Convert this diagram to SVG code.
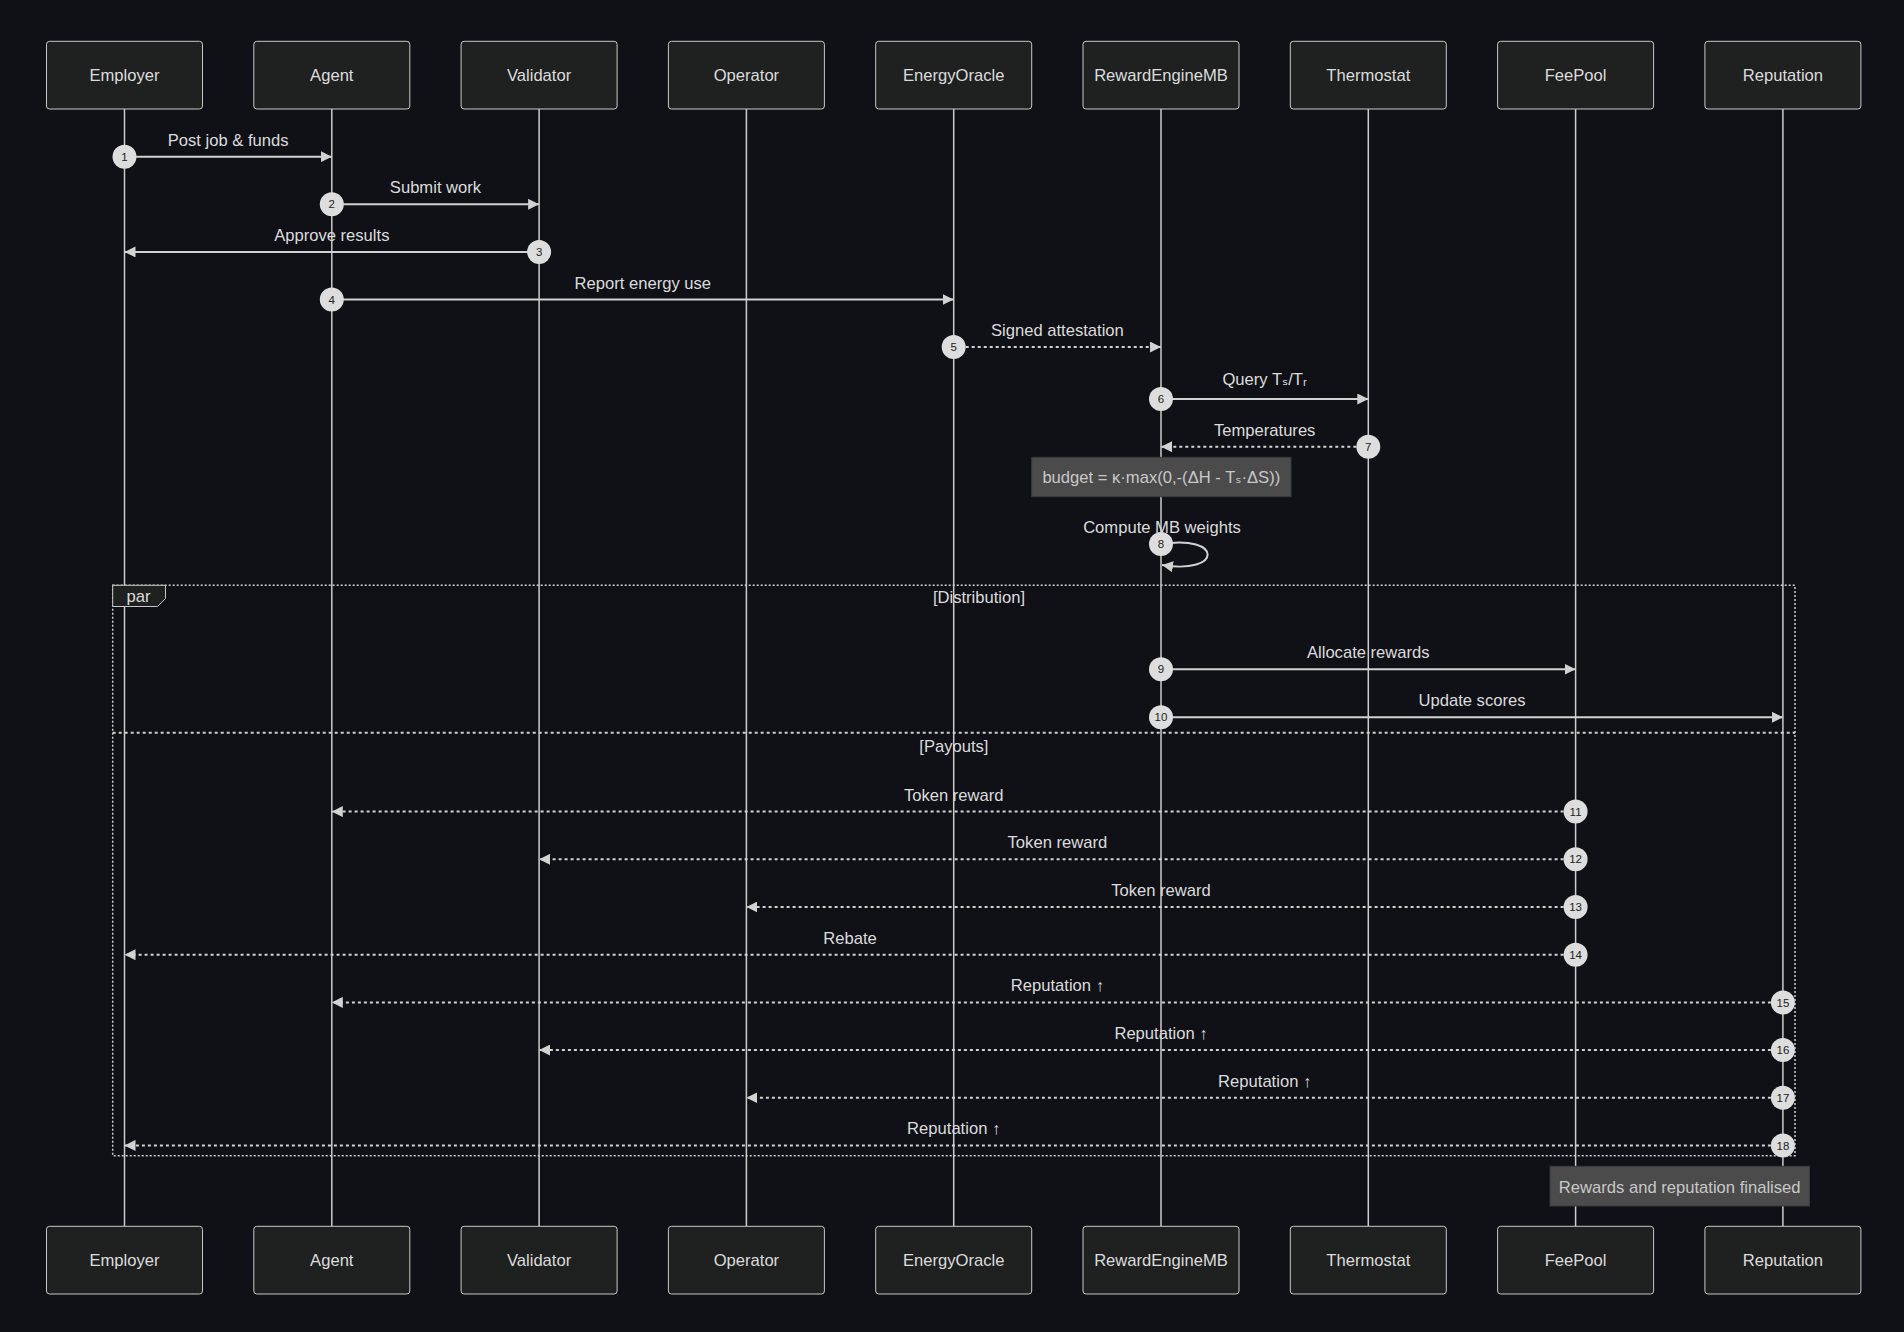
<svg xmlns="http://www.w3.org/2000/svg" width="1904" height="1332" viewBox="0 0 1904 1332">
<style>
.bg{fill:#0f1117}
.abox{fill:#1f2020;stroke:#c8c8c8;stroke-width:1}
.atxt{font-family:"Liberation Sans","DejaVu Sans",sans-serif;font-size:16.6px;fill:#dcdcdc;text-anchor:middle}
.life{stroke:#cccccc;stroke-width:1.5}
.msg{stroke:#d2d2d2;stroke-width:2;fill:none}
.dash{stroke-dasharray:3 3}
.lbl{font-family:"Liberation Sans","DejaVu Sans",sans-serif;font-size:16.6px;fill:#dcdcdc;text-anchor:middle}
.numc{fill:#dddddd}
.numt{font-family:"Liberation Sans","DejaVu Sans",sans-serif;font-size:11.5px;fill:#222222;text-anchor:middle}
.note{fill:#4b4b4b;stroke:#3a3a3a;stroke-width:1}
.ntxt{font-family:"Liberation Sans","DejaVu Sans",sans-serif;font-size:16.6px;fill:#c8c8c8;text-anchor:middle}
.par{fill:none;stroke:#d0d0d0;stroke-width:1.5;stroke-dasharray:2 2}
.sep{fill:none;stroke:#d0d0d0;stroke-width:2;stroke-dasharray:3 3}
.plbl{fill:#1f2020;stroke:#c8c8c8;stroke-width:1}
</style>
<defs>
<marker id="ah" viewBox="0 0 10 10" refX="10" refY="5" markerUnits="userSpaceOnUse" markerWidth="11" markerHeight="11" orient="auto"><path d="M0,0 L10,5 L0,10 z" fill="#d2d2d2"/></marker>
</defs>
<rect class="bg" x="0" y="0" width="1904" height="1332"/>

<g id="actor-Employer">
<line class="life" x1="124.5" y1="109" x2="124.5" y2="1226.3"/>
<rect class="abox" x="46.5" y="41.3" width="156" height="67.7" rx="3"/><text class="atxt" x="124.5" y="81">Employer</text>
<rect class="abox" x="46.5" y="1226.3" width="156" height="67.7" rx="3"/><text class="atxt" x="124.5" y="1266">Employer</text>
</g>
<g id="actor-Agent">
<line class="life" x1="331.8" y1="109" x2="331.8" y2="1226.3"/>
<rect class="abox" x="253.8" y="41.3" width="156" height="67.7" rx="3"/><text class="atxt" x="331.8" y="81">Agent</text>
<rect class="abox" x="253.8" y="1226.3" width="156" height="67.7" rx="3"/><text class="atxt" x="331.8" y="1266">Agent</text>
</g>
<g id="actor-Validator">
<line class="life" x1="539.1" y1="109" x2="539.1" y2="1226.3"/>
<rect class="abox" x="461.1" y="41.3" width="156" height="67.7" rx="3"/><text class="atxt" x="539.1" y="81">Validator</text>
<rect class="abox" x="461.1" y="1226.3" width="156" height="67.7" rx="3"/><text class="atxt" x="539.1" y="1266">Validator</text>
</g>
<g id="actor-Operator">
<line class="life" x1="746.4" y1="109" x2="746.4" y2="1226.3"/>
<rect class="abox" x="668.4" y="41.3" width="156" height="67.7" rx="3"/><text class="atxt" x="746.4" y="81">Operator</text>
<rect class="abox" x="668.4" y="1226.3" width="156" height="67.7" rx="3"/><text class="atxt" x="746.4" y="1266">Operator</text>
</g>
<g id="actor-EnergyOracle">
<line class="life" x1="953.7" y1="109" x2="953.7" y2="1226.3"/>
<rect class="abox" x="875.7" y="41.3" width="156" height="67.7" rx="3"/><text class="atxt" x="953.7" y="81">EnergyOracle</text>
<rect class="abox" x="875.7" y="1226.3" width="156" height="67.7" rx="3"/><text class="atxt" x="953.7" y="1266">EnergyOracle</text>
</g>
<g id="actor-RewardEngineMB">
<line class="life" x1="1161" y1="109" x2="1161" y2="1226.3"/>
<rect class="abox" x="1083" y="41.3" width="156" height="67.7" rx="3"/><text class="atxt" x="1161" y="81">RewardEngineMB</text>
<rect class="abox" x="1083" y="1226.3" width="156" height="67.7" rx="3"/><text class="atxt" x="1161" y="1266">RewardEngineMB</text>
</g>
<g id="actor-Thermostat">
<line class="life" x1="1368.3" y1="109" x2="1368.3" y2="1226.3"/>
<rect class="abox" x="1290.3" y="41.3" width="156" height="67.7" rx="3"/><text class="atxt" x="1368.3" y="81">Thermostat</text>
<rect class="abox" x="1290.3" y="1226.3" width="156" height="67.7" rx="3"/><text class="atxt" x="1368.3" y="1266">Thermostat</text>
</g>
<g id="actor-FeePool">
<line class="life" x1="1575.6" y1="109" x2="1575.6" y2="1226.3"/>
<rect class="abox" x="1497.6" y="41.3" width="156" height="67.7" rx="3"/><text class="atxt" x="1575.6" y="81">FeePool</text>
<rect class="abox" x="1497.6" y="1226.3" width="156" height="67.7" rx="3"/><text class="atxt" x="1575.6" y="1266">FeePool</text>
</g>
<g id="actor-Reputation">
<line class="life" x1="1782.9" y1="109" x2="1782.9" y2="1226.3"/>
<rect class="abox" x="1704.9" y="41.3" width="156" height="67.7" rx="3"/><text class="atxt" x="1782.9" y="81">Reputation</text>
<rect class="abox" x="1704.9" y="1226.3" width="156" height="67.7" rx="3"/><text class="atxt" x="1782.9" y="1266">Reputation</text>
</g>

<g id="par-block">
<rect class="par" x="112.7" y="585.3" width="1682.3" height="570.4"/>
<polygon class="plbl" points="112.7,585.3 165.5,585.3 165.5,598.5 157.5,606.5 112.7,606.5"/>
<text class="lbl" x="138.6" y="602">par</text>
<text class="lbl" x="979" y="603">[Distribution]</text>
<line class="sep" x1="112.7" y1="732.7" x2="1795" y2="732.7"/>
<text class="lbl" x="953.9" y="752">[Payouts]</text>
</g>

<g id="note-budget">
<rect class="note" x="1031.7" y="457.3" width="259.3" height="39.4"/>
<text class="ntxt" x="1161.3" y="483">budget = κ·max(0,-(ΔH - Tₛ·ΔS))</text>
</g>
<g id="note-final">
<rect class="note" x="1550" y="1166.3" width="259.5" height="39.7"/>
<text class="ntxt" x="1679.7" y="1192.5">Rewards and reputation finalised</text>
</g>

<g id="connectors">
<line class="msg" x1="124.5" y1="156.7" x2="331.8" y2="156.7" marker-end="url(#ah)"/>
<text class="lbl" x="228.2" y="145.7">Post job &amp; funds</text>
<line class="msg" x1="331.8" y1="204.3" x2="539.1" y2="204.3" marker-end="url(#ah)"/>
<text class="lbl" x="435.5" y="193.3">Submit work</text>
<line class="msg" x1="539.1" y1="251.9" x2="124.5" y2="251.9" marker-end="url(#ah)"/>
<text class="lbl" x="331.8" y="240.9">Approve results</text>
<line class="msg" x1="331.8" y1="299.5" x2="953.7" y2="299.5" marker-end="url(#ah)"/>
<text class="lbl" x="642.8" y="288.5">Report energy use</text>
<line class="msg dash" x1="953.7" y1="347.1" x2="1161" y2="347.1" marker-end="url(#ah)"/>
<text class="lbl" x="1057.4" y="336">Signed attestation</text>
<line class="msg" x1="1161" y1="399" x2="1368.3" y2="399" marker-end="url(#ah)"/>
<text class="lbl" x="1264.7" y="385">Query Tₛ/Tᵣ</text>
<line class="msg dash" x1="1368.3" y1="446.7" x2="1161" y2="446.7" marker-end="url(#ah)"/>
<text class="lbl" x="1264.7" y="436">Temperatures</text>
<path class="msg" d="M1161,544 C1223,534 1223,575 1162,565" marker-end="url(#ah)"/>
<text class="lbl" x="1162" y="533.3">Compute MB weights</text>
<line class="msg" x1="1161" y1="669.3" x2="1575.6" y2="669.3" marker-end="url(#ah)"/>
<text class="lbl" x="1368.3" y="658.3">Allocate rewards</text>
<line class="msg" x1="1161" y1="717.3" x2="1782.9" y2="717.3" marker-end="url(#ah)"/>
<text class="lbl" x="1472" y="706.3">Update scores</text>
<line class="msg dash" x1="1575.6" y1="811.6" x2="331.8" y2="811.6" marker-end="url(#ah)"/>
<text class="lbl" x="953.7" y="800.6">Token reward</text>
<line class="msg dash" x1="1575.6" y1="859.3" x2="539.1" y2="859.3" marker-end="url(#ah)"/>
<text class="lbl" x="1057.4" y="848.3">Token reward</text>
<line class="msg dash" x1="1575.6" y1="907" x2="746.4" y2="907" marker-end="url(#ah)"/>
<text class="lbl" x="1161" y="896">Token reward</text>
<line class="msg dash" x1="1575.6" y1="954.7" x2="124.5" y2="954.7" marker-end="url(#ah)"/>
<text class="lbl" x="850" y="943.7">Rebate</text>
<line class="msg dash" x1="1782.9" y1="1002.4" x2="331.8" y2="1002.4" marker-end="url(#ah)"/>
<text class="lbl" x="1057.4" y="991.4">Reputation ↑</text>
<line class="msg dash" x1="1782.9" y1="1050" x2="539.1" y2="1050" marker-end="url(#ah)"/>
<text class="lbl" x="1161" y="1039">Reputation ↑</text>
<line class="msg dash" x1="1782.9" y1="1097.7" x2="746.4" y2="1097.7" marker-end="url(#ah)"/>
<text class="lbl" x="1264.7" y="1086.7">Reputation ↑</text>
<line class="msg dash" x1="1782.9" y1="1145.4" x2="124.5" y2="1145.4" marker-end="url(#ah)"/>
<text class="lbl" x="953.7" y="1134.4">Reputation ↑</text>
</g>

<g id="sequence-numbers">
<circle class="numc" cx="124.5" cy="156.7" r="12"/><text class="numt" x="124.5" y="160.8">1</text>
<circle class="numc" cx="331.8" cy="204.3" r="12"/><text class="numt" x="331.8" y="208.4">2</text>
<circle class="numc" cx="539.1" cy="251.9" r="12"/><text class="numt" x="539.1" y="256">3</text>
<circle class="numc" cx="331.8" cy="299.5" r="12"/><text class="numt" x="331.8" y="303.6">4</text>
<circle class="numc" cx="953.7" cy="347.1" r="12"/><text class="numt" x="953.7" y="351.2">5</text>
<circle class="numc" cx="1161" cy="399" r="12"/><text class="numt" x="1161" y="403.1">6</text>
<circle class="numc" cx="1368.3" cy="446.7" r="12"/><text class="numt" x="1368.3" y="450.8">7</text>
<circle class="numc" cx="1161" cy="544" r="12"/><text class="numt" x="1161" y="548.1">8</text>
<circle class="numc" cx="1161" cy="669.3" r="12"/><text class="numt" x="1161" y="673.4">9</text>
<circle class="numc" cx="1161" cy="717.3" r="12"/><text class="numt" x="1161" y="721.4">10</text>
<circle class="numc" cx="1575.6" cy="811.6" r="12"/><text class="numt" x="1575.6" y="815.7">11</text>
<circle class="numc" cx="1575.6" cy="859.3" r="12"/><text class="numt" x="1575.6" y="863.4">12</text>
<circle class="numc" cx="1575.6" cy="907" r="12"/><text class="numt" x="1575.6" y="911.1">13</text>
<circle class="numc" cx="1575.6" cy="954.7" r="12"/><text class="numt" x="1575.6" y="958.8">14</text>
<circle class="numc" cx="1782.9" cy="1002.4" r="12"/><text class="numt" x="1782.9" y="1006.5">15</text>
<circle class="numc" cx="1782.9" cy="1050" r="12"/><text class="numt" x="1782.9" y="1054.1">16</text>
<circle class="numc" cx="1782.9" cy="1097.7" r="12"/><text class="numt" x="1782.9" y="1101.8">17</text>
<circle class="numc" cx="1782.9" cy="1145.4" r="12"/><text class="numt" x="1782.9" y="1149.5">18</text>
</g>
</svg>
